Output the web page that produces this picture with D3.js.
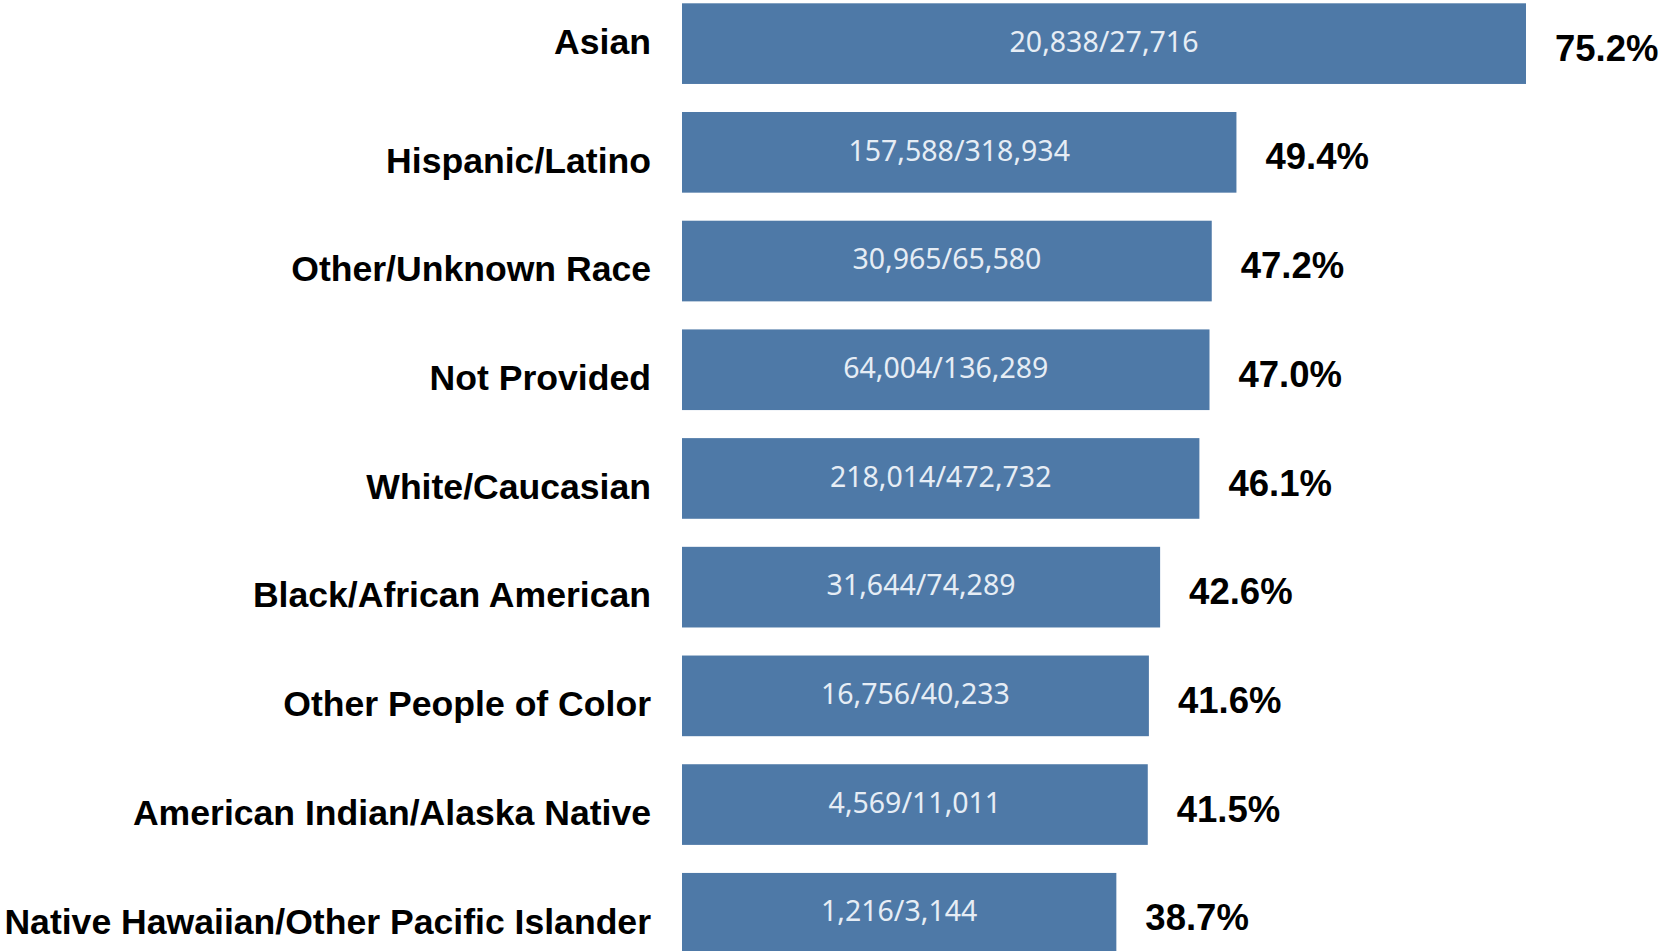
<!DOCTYPE html>
<html>
<head>
<meta charset="utf-8">
<script src="https://cdn.jsdelivr.net/npm/d3@7"></script>
<style>
    body { margin: 0; background: #fff; }
    svg { display: block; }
</style>
</head>
<body>
<div id="chart"></div>
<script>
// Categories, top to bottom
const categories = [
    "Asian",
    "Hispanic/Latino",
    "Other/Unknown Race",
    "Not Provided",
    "White/Caucasian",
    "Black/African American",
    "Other People of Color",
    "American Indian/Alaska Native",
    "Native Hawaiian/Other Pacific Islander"
];

// Counts shown inside the bars (numerator/denominator)
const numerators = [20838, 157588, 30965, 64004, 218014, 31644, 16756, 4569, 1216];
const denominators = [27716, 318934, 65580, 136289, 472732, 74289, 40233, 11011, 3144];

// Percent labels at the end of each bar
const percents = [75.2, 49.4, 47.2, 47.0, 46.1, 42.6, 41.6, 41.5, 38.7];

const data = categories.map((c, i) => ({
    category: c,
    num: numerators[i],
    den: denominators[i],
    pct: percents[i]
}));

function createBarChart(data) {
    const width = 1665;
    const height = 951;

    const svg = d3.select("#chart")
        .append("svg")
        .attr("width", width)
        .attr("height", height);

    // Scales
    const x = d3.scaleLinear()
        .domain([0, d3.max(data, d => d.pct)])
        .range([682, 1526]);

    const y = d3.scaleBand()
        .domain(categories)
        .range([3.3, 953.6])
        .paddingInner(0.258)
        .paddingOuter(0);

    const fmt = d3.format(",");

    // Bars
    svg.selectAll("rect.bar")
        .data(data)
        .enter()
        .append("rect")
        .attr("class", "bar")
        .attr("x", x(0))
        .attr("y", d => y(d.category))
        .attr("width", d => x(d.pct) - x(0))
        .attr("height", y.bandwidth())
        .attr("fill", "#4e79a7");

    // Counts inside bars
    svg.selectAll("text.count")
        .data(data)
        .enter()
        .append("text")
        .attr("class", "count")
        .attr("x", d => (x(0) + x(d.pct)) / 2)
        .attr("y", d => y(d.category) + y.bandwidth() / 2 - 2)
        .attr("dy", "0.357em")
        .attr("text-anchor", "middle")
        .attr("font-family", "'Noto Sans', 'Open Sans', sans-serif")
        .attr("font-size", "28.5px")
        .attr("fill", "#e6edf5")
        .text(d => `${fmt(d.num)}/${fmt(d.den)}`);

    // Percent labels to the right of bars
    svg.selectAll("text.pct")
        .data(data)
        .enter()
        .append("text")
        .attr("class", "pct")
        .attr("x", d => x(d.pct) + 29)
        .attr("y", d => y(d.category) + y.bandwidth() / 2 + 4)
        .attr("dy", "0.358em")
        .attr("font-family", "'Liberation Sans', Arial, sans-serif")
        .attr("font-weight", "bold")
        .attr("font-size", "36.5px")
        .attr("fill", "#000")
        .text(d => `${d.pct.toFixed(1)}%`);

    // Category labels (top row sits a bit higher, against the edge)
    svg.selectAll("text.cat")
        .data(data)
        .enter()
        .append("text")
        .attr("class", "cat")
        .attr("x", 651)
        .attr("y", (d, i) => y(d.category) + y.bandwidth() / 2 + (i === 0 ? -2 : 7.5))
        .attr("dy", "0.358em")
        .attr("text-anchor", "end")
        .attr("font-family", "'Liberation Sans', Arial, sans-serif")
        .attr("font-weight", "bold")
        .attr("font-size", "35.6px")
        .attr("fill", "#000")
        .text(d => d.category);
}

createBarChart(data);
</script>
</body>
</html>
